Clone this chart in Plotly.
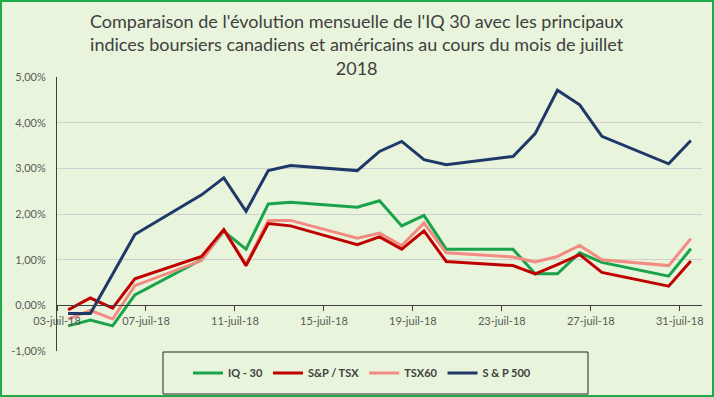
import plotly.graph_objects as go

dates = ["2018-07-03", "2018-07-04", "2018-07-05", "2018-07-06", "2018-07-09",
         "2018-07-10", "2018-07-11", "2018-07-12", "2018-07-13", "2018-07-16",
         "2018-07-17", "2018-07-18", "2018-07-19", "2018-07-20", "2018-07-23",
         "2018-07-24", "2018-07-25", "2018-07-26", "2018-07-27", "2018-07-30",
         "2018-07-31"]

iq30 = [-0.45, -0.32, -0.45, 0.23, 1.00, 1.62, 1.23, 2.22, 2.26, 2.15,
        2.29, 1.74, 1.97, 1.23, 1.23, 0.69, 0.69, 1.15, 0.94, 0.64, 1.24]
sp_tsx = [-0.10, 0.16, -0.06, 0.58, 1.07, 1.66, 0.87, 1.79, 1.74, 1.33,
          1.50, 1.23, 1.63, 0.96, 0.87, 0.69, 0.89, 1.11, 0.72, 0.42, 0.97]
tsx60 = [-0.30, -0.11, -0.30, 0.43, 0.98, 1.64, 0.90, 1.86, 1.86, 1.47,
         1.58, 1.31, 1.80, 1.15, 1.06, 0.95, 1.07, 1.31, 1.00, 0.87, 1.46]
sp500 = [-0.18, -0.18, 0.68, 1.55, 2.42, 2.79, 2.06, 2.95, 3.06, 2.95,
         3.37, 3.59, 3.19, 3.08, 3.26, 3.76, 4.71, 4.39, 3.70, 3.10, 3.61]

tick_dates = ["2018-07-03", "2018-07-07", "2018-07-11", "2018-07-15",
              "2018-07-19", "2018-07-23", "2018-07-27", "2018-07-31"]
tick_labels = ["03-juil-18", "07-juil-18", "11-juil-18", "15-juil-18",
               "19-juil-18", "23-juil-18", "27-juil-18", "31-juil-18"]
y_ticks = [-1, 0, 1, 2, 3, 4, 5]
y_labels = ["-1,00%", "0,00%", "1,00%", "2,00%", "3,00%", "4,00%", "5,00%"]

title = ("Comparaison de l'évolution mensuelle de l'IQ 30 avec les principaux<br>"
         "indices boursiers canadiens et américains au cours du mois de juillet<br>2018")

BG = "#E8F5DC"
FONT = "Lato"

x_mid = [d + " 12:00" for d in dates]

series = [
    ("IQ - 30", iq30, "#1AA34A", 1),
    ("TSX60", tsx60, "#F28B82", 3),
    ("S&P / TSX", sp_tsx, "#C00000", 2),
    ("S & P 500", sp500, "#1F3868", 4),
]

fig = go.Figure()
for name, vals, color, rank in series:
    fig.add_trace(go.Scatter(
        x=x_mid, y=vals, name=name, mode="lines",
        line=dict(color=color, width=3),
        legendrank=rank,
    ))

fig.update_layout(
    width=714, height=397,
    margin=dict(l=57, r=12, t=77, b=46, autoexpand=False),
    paper_bgcolor=BG, plot_bgcolor=BG,
    font=dict(family=FONT, color="#595959", size=11),
    showlegend=True,
    legend=dict(orientation="h", x=(188 - 57) / 645, xanchor="left",
                y=(351 - 373) / 274, yanchor="middle",
                bgcolor="rgba(0,0,0,0)", borderwidth=0,
                font=dict(family=FONT, size=11, color="#404040", weight="bold"),
                itemwidth=30, traceorder="normal"),
    xaxis=dict(
        type="date",
        range=["2018-07-03", "2018-08-01"],
        tickvals=tick_dates, ticktext=tick_labels,
        anchor="free", position=1 / 6, automargin=False,
        showline=True, linecolor="#404040", linewidth=1,
        ticks="outside", ticklen=5, tickcolor="#404040",
        showgrid=False, zeroline=False,
        tickfont=dict(family=FONT, size=11, color="#595959"),
    ),
    yaxis=dict(
        range=[-1, 5], automargin=False,
        tickvals=y_ticks, ticktext=y_labels,
        showline=True, linecolor="#404040", linewidth=1,
        showgrid=True, gridcolor="#D0D0D0", gridwidth=1,
        zeroline=False, ticks="", ticklabelstandoff=8,
        tickfont=dict(family=FONT, size=11, color="#595959"),
    ),
    annotations=[
        dict(text=title, xref="paper", yref="paper",
             x=(357 - 57) / 645, y=(351 - 45) / 274,
             xanchor="center", yanchor="middle", showarrow=False,
             align="center",
             font=dict(family=FONT, size=18, color="#404040")),
    ],
    shapes=[
        dict(type="rect", xref="paper", yref="paper",
             x0=(163 - 57) / 645, x1=(588 - 57) / 645,
             y0=(351 - 394) / 274, y1=(351 - 352) / 274,
             line=dict(color="#262626", width=1), fillcolor="rgba(0,0,0,0)"),
        dict(type="rect", xref="paper", yref="paper",
             x0=(1 - 57) / 645, x1=(713 - 57) / 645,
             y0=(351 - 396) / 274, y1=(351 - 1) / 274,
             line=dict(color="#1FAA4A", width=2), fillcolor="rgba(0,0,0,0)"),
    ],
)

fig.write_html("out.html",
               config={"displayModeBar": False},
               post_script="document.body.style.margin='0';document.body.style.overflow='hidden';")
